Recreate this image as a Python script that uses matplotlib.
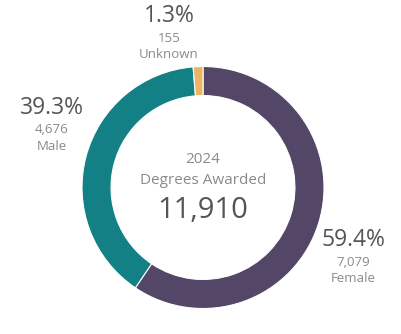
import matplotlib
matplotlib.use('Agg')
import matplotlib.pyplot as plt

# degrees awarded by gender, 2024
categories = ['Female', 'Male', 'Unknown']
counts = [7079, 4676, 155]
colors = ['#534666', '#138085', '#EBB563']
year = '2024'

total = sum(counts)
shares = [c / total * 100 for c in counts]

plt.rcParams['font.family'] = ['Open Sans', 'DejaVu Sans']

W, H = 402, 334
fig = plt.figure(figsize=(W / 100, H / 100), dpi=100)
ax = fig.add_axes([0, 0, 1, 1])

cx, cy, r = 203, H - 187.5, 121
ax.pie(counts, colors=colors, startangle=90, counterclock=False,
       center=(cx, cy), radius=r, frame=True,
       wedgeprops=dict(width=r * 0.24, edgecolor='white', linewidth=0.8))
ax.set_xlim(0, W)
ax.set_ylim(0, H)
ax.axis('off')

# label anchors (x, y of the percentage line, in pixels from top-left)
label_pos = {'Female': (353, 240), 'Male': (52, 108), 'Unknown': (169, 16)}
for cat, cnt, pct in zip(categories, counts, shares):
    x, y = label_pos[cat]
    ax.text(x, H - y, f'{pct:.1f}%', ha='center', va='center', fontsize=16.5, color='#555555')
    ax.text(x, H - y - 22, f'{cnt:,}', ha='center', va='center', fontsize=9.5, color='#8a8a8a')
    ax.text(x, H - y - 39, cat, ha='center', va='center', fontsize=9.5, color='#8a8a8a')

ax.text(cx, H - 160, year, ha='center', va='center', fontsize=11, color='#8a8a8a')
ax.text(cx, H - 181, 'Degrees Awarded', ha='center', va='center', fontsize=11, color='#8a8a8a')
ax.text(cx, H - 210, f'{total:,}', ha='center', va='center', fontsize=21, color='#555555')

fig.savefig('out.png', dpi=100, facecolor='white')
